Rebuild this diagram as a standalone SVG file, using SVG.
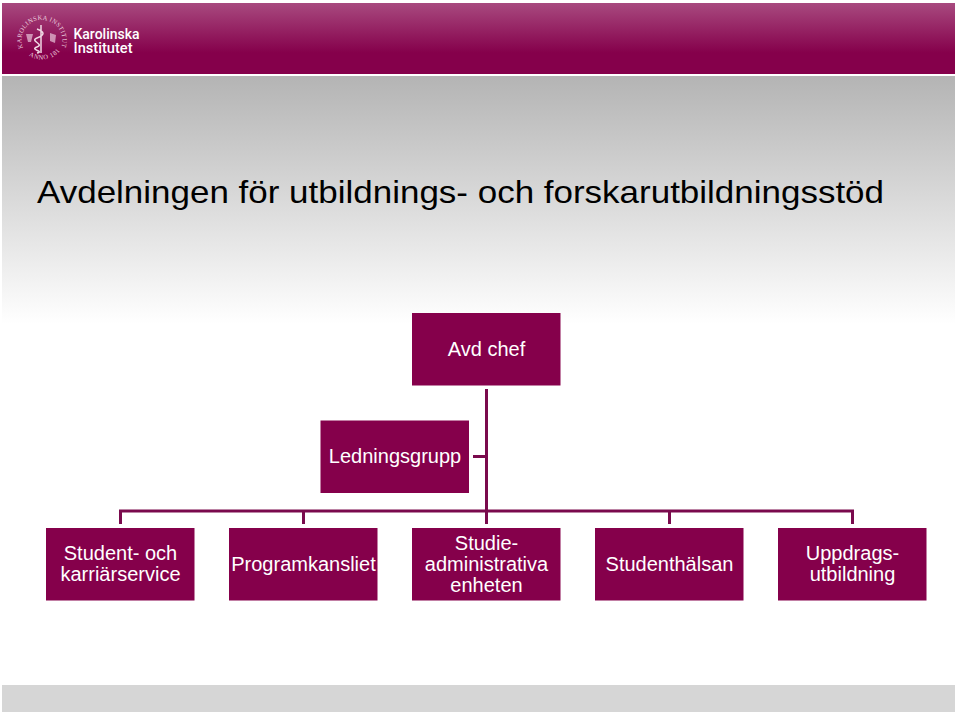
<svg xmlns="http://www.w3.org/2000/svg" width="960" height="712" viewBox="0 0 960 712">
<style>
.box{fill:#85004b}
.t{font-family:"Liberation Sans",Arial,sans-serif;font-size:20px;fill:#fff;text-anchor:middle}
.c{fill:none;stroke:#7a0a4d;stroke-width:3}
.seal{font-family:"Liberation Serif",serif;font-size:6.500px;fill:#eccfdf;letter-spacing:.6px}
</style>
<defs>
<linearGradient id="hd" x1="0" y1="0" x2="0" y2="1"><stop offset="0" stop-color="#a84a7f"/><stop offset="0.7" stop-color="#85004b"/><stop offset="1" stop-color="#85004b"/></linearGradient>
<linearGradient id="bg" x1="0" y1="0" x2="0" y2="1"><stop offset="0" stop-color="#b4b4b4"/><stop offset="1" stop-color="#ffffff"/></linearGradient>
<path id="ringTop" d="M23 48A20.500 20.500 0 1 1 61 48"/>
<path id="ringBottom" d="M25 52A23 23 0 0 0 59 52"/>
</defs>
<rect width="960" height="712" fill="#fff"/>
<rect x="2" y="3" width="953" height="71" fill="url(#hd)"/>
<rect x="2" y="76" width="953" height="248" fill="url(#bg)"/>
<rect x="2" y="685" width="953" height="27" fill="#d6d6d6"/>
<g id="logo">
<text class="seal"><textPath href="#ringTop" textLength="88" lengthAdjust="spacing">KAROLINSKA INSTITUTET</textPath></text>
<text class="seal"><textPath href="#ringBottom" startOffset="5">ANNO 1810</textPath></text>
<path d="M41 25v28M37 29c8 3 8 6 0 9s8 6 0 9s8 4 0 6" fill="none" stroke="#f0d8e4" stroke-width="1.500"/>
<path d="M26 34h7l-2 8h-3zM50 33l6 2-1 8-5-2z" fill="#e8c4d8" opacity=".7"/>
<text x="73.500" y="38.500" font-family="Roboto,'Liberation Sans',sans-serif" font-size="15" font-weight="500" fill="#fff" textLength="66" lengthAdjust="spacingAndGlyphs">Karolinska</text>
<text x="73.500" y="52.500" font-family="Roboto,'Liberation Sans',sans-serif" font-size="15" font-weight="500" fill="#fff" textLength="59" lengthAdjust="spacingAndGlyphs">Institutet</text>
</g>
<text id="title" x="37" y="203" font-family="'Liberation Sans',Arial,sans-serif" font-size="32" fill="#000" textLength="847" lengthAdjust="spacingAndGlyphs">Avdelningen för utbildnings- och forskarutbildningsstöd</text>
<g id="connectors">
<path class="c" d="M486.500 389V511M473 456.500H486.500M120.500 524V511H852.500V524M303.500 511V524M486.500 511V524M669.500 511V524"/>
</g>
<g id="n-chef"><rect class="box" x="412" y="313" width="148.500" height="72.500"/><text class="t" x="486.500" y="356">Avd chef</text></g>
<g id="n-ledning"><rect class="box" x="320.500" y="420.500" width="148.500" height="72.500"/><text class="t" x="395" y="463">Ledningsgrupp</text></g>
<g id="n-student"><rect class="box" x="46" y="528" width="148.500" height="72.500"/><text class="t" x="120.500" y="560">Student- och</text><text class="t" x="120.500" y="581">karriärservice</text></g>
<g id="n-program"><rect class="box" x="229" y="528" width="148.500" height="72.500"/><text class="t" x="303.500" y="571">Programkansliet</text></g>
<g id="n-studie"><rect class="box" x="412" y="528" width="148.500" height="72.500"/><text class="t" x="486.500" y="550">Studie-</text><text class="t" x="486.500" y="571">administrativa</text><text class="t" x="486.500" y="592">enheten</text></g>
<g id="n-halsan"><rect class="box" x="595" y="528" width="148.500" height="72.500"/><text class="t" x="669.500" y="571">Studenthälsan</text></g>
<g id="n-uppdrag"><rect class="box" x="778" y="528" width="148.500" height="72.500"/><text class="t" x="852.500" y="560">Uppdrags-</text><text class="t" x="852.500" y="581">utbildning</text></g>
</svg>
